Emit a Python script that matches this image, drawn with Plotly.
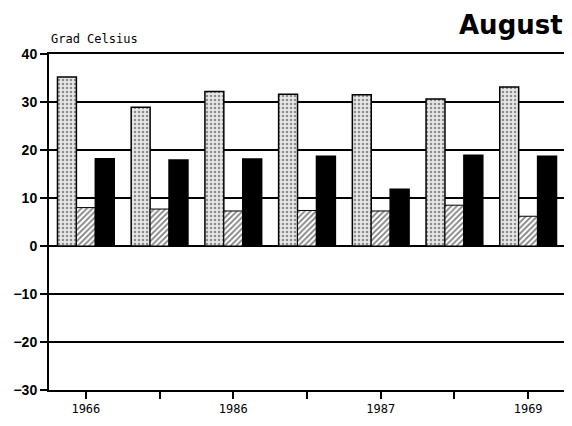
import plotly.graph_objs as go

groups = ['g1', 'g2', 'g3', 'g4', 'g5', 'g6', 'g7']
tick_text = ['1966', '', '1986', '', '1987', '', '1969']
max_temp = [35.2, 28.9, 32.2, 31.6, 31.5, 30.6, 33.1]
min_temp = [8.0, 7.7, 7.3, 7.4, 7.3, 8.5, 6.2]
mean_temp = [18.2, 17.9, 18.1, 18.7, 11.8, 18.9, 18.7]

x = list(range(len(groups)))

fig = go.Figure()
fig.add_trace(go.Bar(x=x, y=max_temp, name='max',
                     marker=dict(color='white', line=dict(color='black', width=1.5),
                                 pattern=dict(shape='.', fgcolor='#333', bgcolor='#e6e6e6',
                                              size=4, solidity=0.3))))
fig.add_trace(go.Bar(x=x, y=min_temp, name='min',
                     marker=dict(color='white', line=dict(color='black', width=1),
                                 pattern=dict(shape='/', fgcolor='black', bgcolor='white',
                                              size=4, solidity=0.45))))
fig.add_trace(go.Bar(x=x, y=mean_temp, name='mittel',
                     marker=dict(color='black', line=dict(color='black', width=1.5))))

# the page body has an 8px margin, so the figure is 8px smaller each way
fig.update_layout(
    width=564, height=418,
    margin=dict(l=41, r=5, t=46, b=36),
    paper_bgcolor='white', plot_bgcolor='white',
    barmode='group', bargap=0.23, bargroupgap=0,
    showlegend=False,
    font=dict(family='Liberation Sans, Arial', color='black'),
)
fig.update_xaxes(range=[-0.5, 6.5], tickvals=x, ticktext=tick_text,
                 ticks='outside', ticklen=7, tickwidth=1.5, tickcolor='black',
                 showline=True, linecolor='black', linewidth=1.5, mirror=True,
                 showgrid=False, zeroline=False,
                 tickfont=dict(family='DejaVu Sans Mono', size=12, color='black'))
fig.update_yaxes(range=[-30, 40], dtick=10,
                 ticks='outside', ticklen=7, tickwidth=2, tickcolor='black',
                 showline=True, linecolor='black', linewidth=2, mirror=True,
                 showgrid=True, gridcolor='black', gridwidth=1.5,
                 zeroline=True, zerolinecolor='black', zerolinewidth=1.5,
                 tickfont=dict(family='Liberation Sans', size=14, color='black', weight='bold'))

fig.add_annotation(text='August', xref='paper', yref='paper', x=1.0, y=1.0,
                   xanchor='right', yanchor='bottom', yshift=12, showarrow=False,
                   font=dict(family='DejaVu Sans', size=26, color='black', weight='bold'))
fig.add_annotation(text='Grad Celsius', xref='paper', yref='paper', x=0.0, y=1.0,
                   xanchor='left', yanchor='bottom', yshift=6, showarrow=False,
                   font=dict(family='DejaVu Sans Mono', size=12, color='black'))

fig.write_html("out.html")
